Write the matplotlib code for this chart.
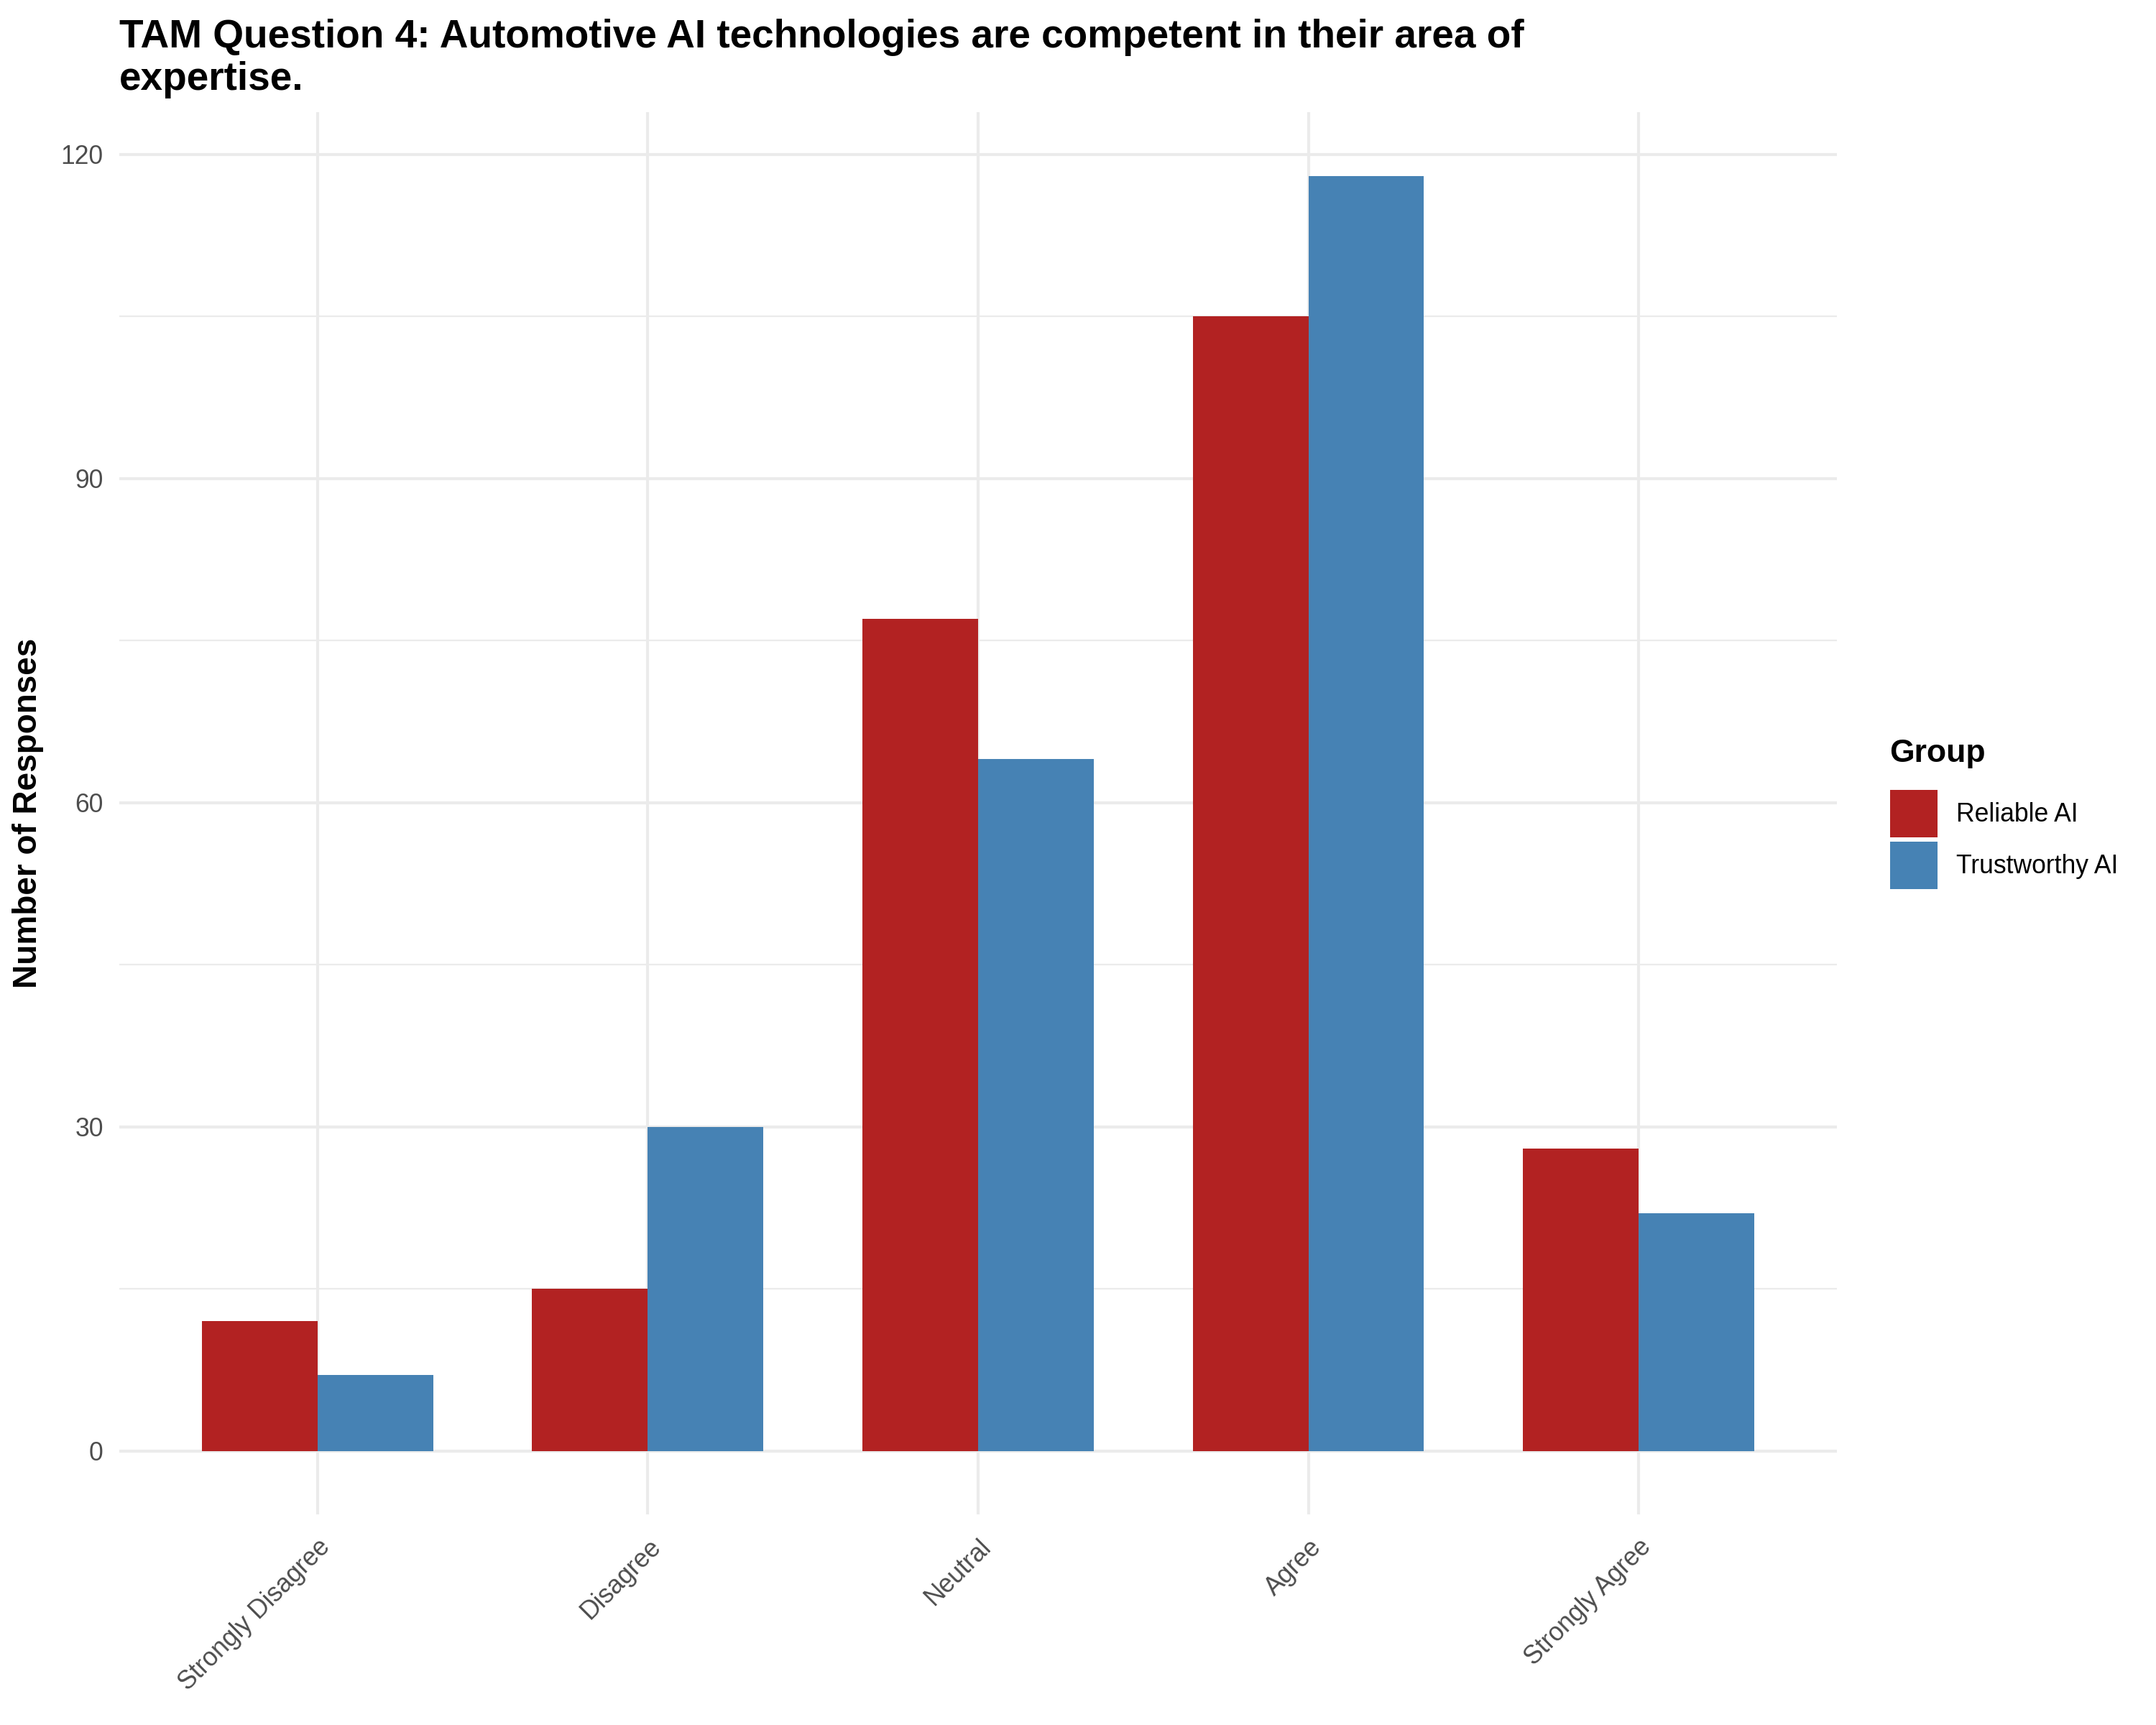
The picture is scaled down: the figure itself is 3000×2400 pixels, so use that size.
import matplotlib
matplotlib.use("Agg")
import matplotlib.pyplot as plt
import numpy as np

categories = ["Strongly Disagree", "Disagree", "Neutral", "Agree", "Strongly Agree"]
groups = ["Reliable AI", "Trustworthy AI"]
reliable = [12, 15, 77, 105, 28]
trustworthy = [7, 30, 64, 118, 22]
colors = ["#B22222", "#4682B4"]
yticks = [0, 30, 60, 90, 120]

plt.rcParams['font.family'] = ['Liberation Sans', 'DejaVu Sans']

fig = plt.figure(figsize=(15, 12), dpi=200)
ax = fig.add_axes([0.0553, 0.122, 0.7967, 0.813])

x = np.arange(1, len(categories) + 1)
w = 0.35
b1 = ax.bar(x - w / 2, reliable, width=w, color=colors[0], label=groups[0], zorder=3)
b2 = ax.bar(x + w / 2, trustworthy, width=w, color=colors[1], label=groups[1], zorder=3)

ax.set_xlim(0.4, 5.6)
ax.set_ylim(-5.9, 123.9)
ax.set_xticks(x)
ax.set_xticklabels(categories, rotation=45, ha='right', va='top', rotation_mode='anchor',
                   fontsize=12.8, color='#4D4D4D')
ax.set_yticks(yticks)
ax.set_yticklabels([str(v) for v in yticks], fontsize=12.8, color='#4D4D4D')
ax.set_yticks([15, 45, 75, 105], minor=True)
ax.tick_params(axis='both', which='both', length=0)
ax.tick_params(axis='y', pad=8)
ax.tick_params(axis='x', pad=10)

ax.grid(True, which='major', color='#EBEBEB', linewidth=1.5, zorder=0)
ax.grid(True, which='minor', axis='y', color='#EBEBEB', linewidth=0.8, zorder=0)
ax.set_axisbelow(True)
for s in ax.spines.values():
    s.set_visible(False)

ax.set_ylabel("Number of Responses", fontsize=16.5, fontweight='bold', color='black')
ax.yaxis.set_label_coords(-0.044, 0.5)

fig.text(0.0553, 0.989, "TAM Question 4: Automotive AI technologies are competent in their area of\nexpertise.",
         fontsize=19.8, fontweight='bold', ha='left', va='top', linespacing=1.17)

# legend title
fig.text(2629 / 3000, 1 - 1060 / 2400, "Group", fontsize=16, fontweight='bold',
         ha='left', va='baseline')
leg = ax.legend(handles=[b1, b2], loc='upper left',
                bbox_to_anchor=(2630 / 3000, 1 - 1099 / 2400), bbox_transform=fig.transFigure,
                frameon=False, fontsize=12.8,
                handlelength=1.855, handleheight=2.477, labelspacing=0.17, handletextpad=0.73,
                borderpad=0, borderaxespad=0)

fig.savefig("out.png", dpi=200, facecolor='white')
